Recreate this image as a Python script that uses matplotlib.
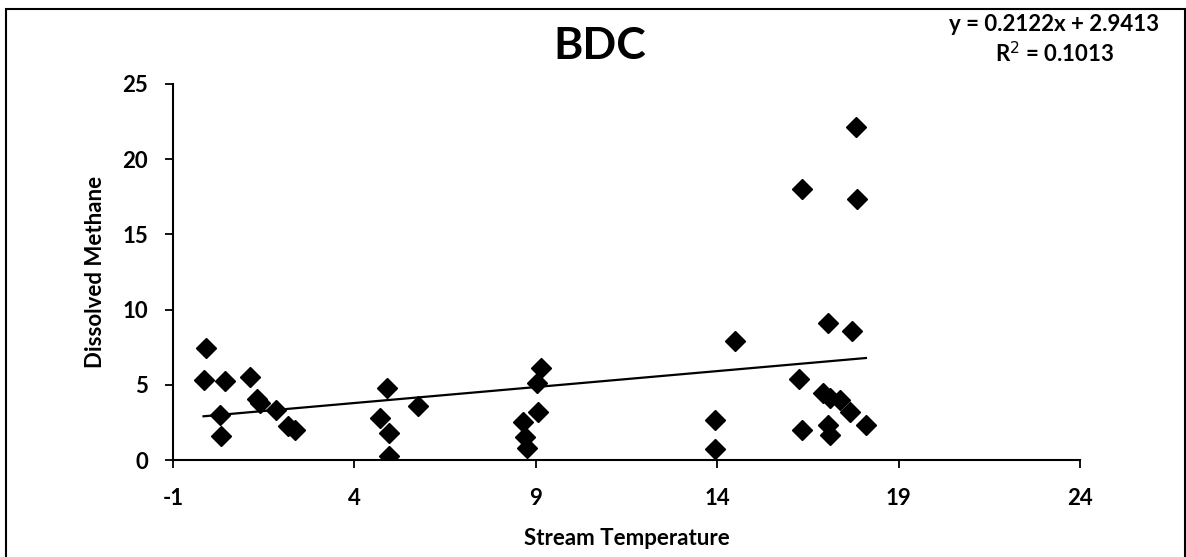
import matplotlib.pyplot as plt
from matplotlib.patches import Rectangle
import numpy as np

# Stream temperature vs dissolved methane at BDC
temperatura = [-0.09, -0.16, 0.43, 1.12, 1.32, 1.40, 1.84, 0.30, 0.31, 2.18, 2.36,
               4.89, 4.71, 4.95, 4.95, 5.74,
               9.13, 9.02, 9.07, 8.65, 8.70, 8.75,
               13.94, 13.94, 14.49,
               16.26, 16.33, 16.33, 16.91, 17.11, 17.38, 17.66, 18.10, 17.06, 17.11,
               17.06, 17.72, 17.82, 17.85]
metano = [7.43, 5.32, 5.27, 5.54, 4.03, 3.80, 3.32, 3.00, 1.60, 2.26, 2.00,
          4.77, 2.79, 1.82, 0.27, 3.59,
          6.10, 5.10, 3.20, 2.55, 1.55, 0.78,
          2.66, 0.73, 7.89,
          5.36, 2.00, 18.00, 4.43, 4.10, 3.99, 3.21, 2.33, 2.33, 1.66,
          9.09, 8.60, 22.12, 17.33]

# linha de tendencia como aparece no grafico
inclinacao = 0.2122
intercepto = 2.9413
r2 = 0.1013

x_ticks = [-1, 4, 9, 14, 19, 24]
y_ticks = [0, 5, 10, 15, 20, 25]

plt.rcParams['font.family'] = ['Lato', 'DejaVu Sans']
plt.rcParams['axes.unicode_minus'] = False

fig = plt.figure(figsize=(11.86, 5.57), dpi=100)
ax = fig.add_axes([0.1459, 0.1741, 0.7647, 0.6751])

ax.plot(temperatura, metano, linestyle='none', marker='D', markersize=10,
        color='black')

xs = np.array([min(temperatura), max(temperatura)])
ax.plot(xs, inclinacao * xs + intercepto, color='black', lw=1.6)

ax.set_xlim(-1, 24)
ax.set_ylim(0, 25)
ax.set_xticks(x_ticks)
ax.set_yticks(y_ticks)
ax.tick_params(direction='out', length=6, width=1.3, labelsize=16)
ax.tick_params(axis='x', pad=14)
ax.tick_params(axis='y', pad=12)
for lbl in ax.get_xticklabels() + ax.get_yticklabels():
    lbl.set_fontweight('bold')

for s in ['top', 'right']:
    ax.spines[s].set_visible(False)
for s in ['left', 'bottom']:
    ax.spines[s].set_linewidth(1.5)
ax.patch.set_visible(False)

ax.set_xlabel('Stream Temperature', fontsize=16, fontweight='bold', labelpad=14)
ax.set_ylabel('Dissolved Methane', fontsize=16, fontweight='bold', labelpad=12)

fig.text(0.506, 0.917, 'BDC', fontsize=32, fontweight='bold', ha='center', va='center')
fig.text(0.889, 0.975, f'y = {inclinacao}x + {intercepto}\nR$^2$ = {r2}',
         fontsize=16, fontweight='bold', ha='center', va='top', linespacing=1.3)

# borda do grafico
fig.patches.append(Rectangle((6 / 1186, -0.01), 1179 / 1186, 1 - 9 / 557 + 0.01,
                             transform=fig.transFigure, fill=False,
                             edgecolor='black', lw=1.5))

fig.savefig('out.png', dpi=100)
